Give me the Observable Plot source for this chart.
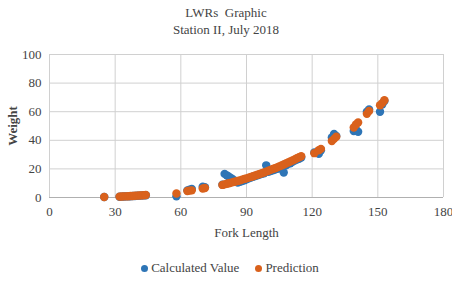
<!DOCTYPE html>
<html>
<head>
<meta charset="utf-8">
<script src="https://cdn.jsdelivr.net/npm/d3@7"></script>
<script src="https://cdn.jsdelivr.net/npm/@observablehq/plot@0.6"></script>
<style>
  html, body { margin: 0; padding: 0; background: #fff; }
  body { width: 452px; height: 281px; overflow: hidden; font-family: "Liberation Serif", "Times New Roman", serif; color: #333; }
  #title { height: 44px; text-align: center; font-size: 13px; line-height: 17px; padding-top: 4px; box-sizing: border-box; color: #444; }
  #chart svg { display: block; }
  #chart g[aria-label="y-axis label"] text { font-weight: bold; }
  #legend { height: 36px; display: flex; justify-content: center; align-items: center; font-family: "Liberation Serif", "Times New Roman", serif; font-size: 13px; color: #444; gap: 16px; padding-top: 10px; padding-left: 8px; box-sizing: border-box; }
  .item { display: flex; align-items: center; gap: 3px; }
  .sw { width: 7px; height: 7px; border-radius: 50%; display: inline-block; }
</style>
</head>
<body>
<div id="title"><div>LWRs&nbsp; Graphic</div><div>Station II, July 2018</div></div>
<div id="chart"></div>
<div id="legend"></div>
<script>
const seriesNames = ["Calculated Value", "Prediction"];
const seriesColors = ["#2e75b6", "#d9611c"];
const xTicks = [0, 30, 60, 90, 120, 150, 180];
const yTicks = [0, 20, 40, 60, 80, 100];

const forkLength = [25, 32, 33, 34, 35, 36, 37, 38, 39, 40, 41, 42, 43, 44, 58, 63, 64, 65, 70, 71,
  79, 80, 81, 82, 83, 84, 85, 86, 87, 88, 89, 90, 91, 92, 93, 94, 95, 96, 97, 98, 99, 100,
  101, 102, 103, 104, 105, 106, 107, 108, 109, 110, 111, 112, 113, 114, 115,
  121, 123, 124, 129, 130, 131, 139, 140, 141, 145, 146, 151, 152, 153];

const calculatedValue = [0.3, 0.5, 0.6, 0.7, 0.8, 0.8, 0.9, 1.0, 1.1, 1.2, 1.3, 1.4, 1.5, 1.6, 0.8, 5.0, 5.5, 6.0, 7.5, 7.2,
  9.0, 16.5, 15.5, 14.5, 13.5, 12.5, 11.0, 10.5, 11.0, 11.5, 12.0, 12.8, 13.5, 14.0, 14.5, 15.0, 15.5, 16.0, 16.5, 17.0, 22.5, 18.0,
  18.5, 19.0, 19.5, 20.0, 20.5, 21.5, 17.5, 22.5, 23.5, 24.0, 25.0, 25.8, 26.5, 27.0, 28.0,
  31.5, 30.5, 33.0, 42.0, 44.5, 43.0, 46.5, 47.5, 46.0, 60.0, 61.5, 60.0, 65.0, 67.5];

const prediction = [0.3, 0.6, 0.7, 0.8, 0.8, 0.9, 1.0, 1.1, 1.2, 1.3, 1.4, 1.5, 1.6, 1.7, 2.8, 4.5, 4.8, 5.0, 6.3, 6.6,
  8.8, 9.2, 9.6, 10.0, 10.4, 10.8, 11.2, 11.6, 12.0, 12.5, 13.0, 13.4, 13.9, 14.4, 14.9, 15.4, 15.9, 16.4, 17.0, 17.5, 18.1, 18.7,
  19.3, 19.9, 20.5, 21.1, 21.8, 22.4, 23.1, 23.8, 24.5, 25.2, 25.9, 26.6, 27.4, 28.1, 28.9,
  31.0, 33.0, 34.0, 39.5, 41.0, 42.5, 49.0, 51.0, 52.5, 58.5, 60.5, 64.5, 66.0, 68.0];

const data = [];
forkLength.forEach((L, i) => data.push({L, W: calculatedValue[i], s: seriesNames[0]}));
forkLength.forEach((L, i) => data.push({L, W: prediction[i], s: seriesNames[1]}));

const chart = Plot.plot({
  width: 452,
  height: 201,
  marginTop: 10,
  marginLeft: 49,
  marginRight: 9,
  marginBottom: 48,
  style: {fontFamily: "'Liberation Serif', 'Times New Roman', serif", fontSize: "13px", color: "#444", background: "#fff"},
  x: {domain: [0, 180]},
  y: {domain: [0, 100]},
  color: {domain: seriesNames, range: seriesColors},
  marks: [
    Plot.gridX(xTicks, {stroke: "#d0d0d0", strokeOpacity: 1}),
    Plot.gridY(yTicks, {stroke: "#d0d0d0", strokeOpacity: 1}),
    Plot.ruleY([0], {stroke: "#b0b0b0"}),
    Plot.axisX(xTicks, {tickSize: 0, tickPadding: 9, label: "Fork Length", labelAnchor: "center", labelOffset: 39, labelArrow: "none"}),
    Plot.axisY(yTicks, {tickSize: 0, tickPadding: 8, label: "Weight", labelAnchor: "center", labelOffset: 42, labelArrow: "none"}),
    Plot.dot(data, {x: "L", y: "W", fill: "s", r: 4.2, stroke: null})
  ]
});
document.getElementById("chart").appendChild(chart);

const legend = document.getElementById("legend");
seriesNames.forEach((n, i) => {
  const it = document.createElement("span");
  it.className = "item";
  it.innerHTML = `<span class="sw" style="background:${seriesColors[i]}"></span><span>${n}</span>`;
  legend.appendChild(it);
});
</script>
</body>
</html>
